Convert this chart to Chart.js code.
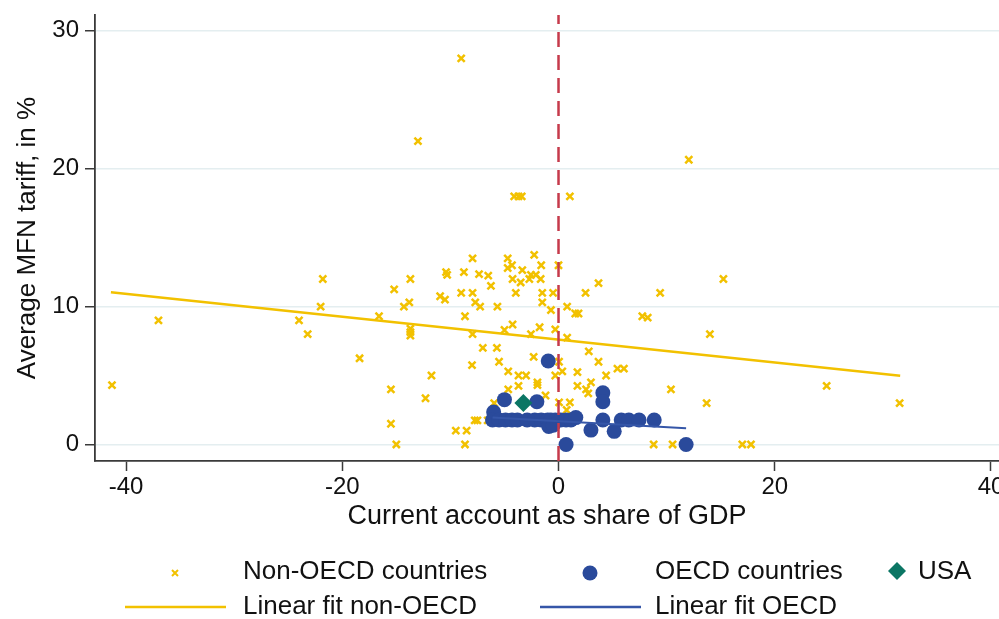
<!DOCTYPE html>
<html>
<head>
<meta charset="utf-8">
<script src="https://cdn.jsdelivr.net/npm/chart.js@4.4.1/dist/chart.umd.min.js"></script>
<style>
  html, body { margin: 0; padding: 0; background: #fff; }
</style>
</head>
<body>
<canvas id="chart" width="999" height="619"></canvas>
<script>
// Axis limits and ticks
const xMin = -42.87, xMax = 40.74;
const yMin = -1.2, yMax = 31.15;
const xTicks = [-40, -20, 0, 20, 40];
const yTicks = [0, 10, 20, 30];

// Non-OECD countries: [current account % GDP, average MFN tariff %]
const nonOecdPoints = [
  [-41.3, 4.3], [-37.0, 9.0], [-24.0, 9.0], [-23.2, 8.0], [-22.0, 10.0], [-21.8, 12.0],
  [-16.6, 9.3], [-18.4, 6.25], [-15.2, 11.25], [-15.5, 4.0], [-15.5, 1.5], [-15.0, 0],
  [-14.3, 10.0], [-13.8, 10.3], [-13.7, 12.0], [-13.7, 8.4], [-13.7, 8.15], [-13.7, 7.9],
  [-13.0, 22.0], [-12.3, 3.35], [-11.75, 5.0], [-10.95, 10.75], [-10.5, 10.5], [-10.4, 12.5],
  [-10.3, 12.3], [-9.5, 1.0], [-9.0, 28.0], [-9.0, 11.0], [-8.75, 12.5], [-8.65, 9.3],
  [-8.65, 0], [-8.5, 1.0], [-7.95, 13.5], [-7.95, 11.0], [-7.95, 8.0], [-8.0, 5.75],
  [-7.7, 10.3], [-7.75, 1.75], [-7.5, 1.75], [-7.35, 12.35], [-7.25, 10.0], [-7.0, 7.0],
  [-6.55, 1.75], [-6.5, 12.25], [-6.25, 11.5], [-5.95, 3.0], [-5.7, 7.0], [-5.65, 10.0],
  [-5.5, 6.0], [-5.0, 8.3], [-4.7, 13.5], [-4.7, 12.8], [-4.3, 13.0], [-4.65, 5.3],
  [-4.65, 4.0], [-4.25, 12.0], [-4.25, 8.7], [-4.1, 18.0], [-3.95, 11.0], [-3.7, 18.0],
  [-3.7, 5.0], [-3.7, 4.25], [-3.5, 11.75], [-3.4, 18.0], [-3.35, 12.65], [-3.0, 5.0],
  [-2.55, 8.0], [-2.55, 12.3], [-2.1, 12.3], [-2.7, 12.0], [-1.65, 12.0], [-2.25, 13.75],
  [-2.3, 6.35], [-1.95, 4.5], [-1.95, 4.3], [-1.6, 13.0], [-1.75, 8.5], [-1.5, 11.0],
  [-1.5, 10.3], [-1.2, 3.55], [-0.7, 9.75], [-0.5, 11.0], [-0.3, 8.35], [-0.3, 5.0],
  [0, 13.0], [0.05, 6.0], [0.05, 3.05], [0.35, 5.3], [0.75, 2.5], [0.8, 10.0],
  [0.8, 7.75], [1.05, 18.0], [1.05, 3.05], [1.55, 9.5], [1.85, 9.5], [1.75, 5.25],
  [1.75, 4.25], [2.5, 11.0], [2.55, 4.0], [2.75, 3.7], [2.8, 6.75], [3.0, 4.5],
  [3.7, 11.7], [3.7, 6.0], [4.4, 5.0], [5.45, 5.5], [6.05, 5.5], [7.75, 9.3],
  [8.25, 9.2], [8.8, 0], [9.4, 11.0], [10.4, 4.0], [10.55, 0], [12.05, 20.65],
  [13.7, 3.0], [14.0, 8.0], [15.25, 12.0], [17.0, 0], [17.8, 0], [24.8, 4.25], [31.55, 3.0]
];

// OECD countries
const oecdPoints = [
  [-0.95, 6.05], [-5.0, 3.25], [-2.0, 3.1], [4.1, 3.75], [4.1, 3.1], [-6.0, 2.35],
  [-6.1, 1.77], [-5.5, 1.77], [-4.9, 1.77], [-4.3, 1.77], [-3.8, 1.77], [-2.9, 1.77],
  [-2.2, 1.77], [-1.6, 1.77], [-1.0, 1.77], [-0.7, 1.77], [-0.3, 1.77], [0.2, 1.77],
  [0.7, 1.77], [1.15, 1.77], [1.6, 1.95], [4.1, 1.77], [5.8, 1.77], [6.5, 1.77],
  [7.45, 1.77], [8.85, 1.77], [-0.9, 1.3], [-0.5, 1.4], [3.0, 1.04], [5.15, 0.95],
  [0.7, 0.0], [11.8, 0.0]
];

const usaPoint = [[-3.25, 3.0]];

// Linear fits, end points
const fitNonOecd = [[-41.4, 11.04], [31.6, 4.98]];
const fitOecd = [[-6.1, 1.95], [11.8, 1.18]];

// vertical reference at zero current account
const refLineX = 0;

const legendLabels = ['Non-OECD countries', 'OECD countries', 'USA', 'Linear fit non-OECD', 'Linear fit OECD'];

const YELLOW = '#f2c100';
const BLUE = '#2a4a9b';
const BLUE_LINE = '#3556a8';
const TEAL = '#0b7664';
const RED = '#c63a4b';
const AXIS = '#3a3a3a';
const GRID = '#e4eef0';
const FONT = '"Liberation Sans", Arial, sans-serif';

const toXY = arr => arr.map(p => ({x: p[0], y: p[1]}));

// x tick labels drawn by hand so the last one may run off the canvas like in the original
const xLabelPlugin = {
  id: 'xLabels',
  afterDraw(chart) {
    const ctx = chart.ctx;
    const sx = chart.scales.x;
    ctx.save();
    ctx.font = '24px ' + FONT;
    ctx.fillStyle = '#111';
    ctx.textAlign = 'center';
    ctx.textBaseline = 'middle';
    xTicks.forEach(v => {
      ctx.fillText(String(v), sx.getPixelForValue(v), sx.top + 26);
    });
    ctx.restore();
  }
};

// Legend below the plot, drawn by hand like the Stata one
const legendPlugin = {
  id: 'stataLegend',
  afterDraw(chart) {
    const ctx = chart.ctx;
    ctx.save();
    ctx.font = '26px ' + FONT;
    ctx.fillStyle = '#111';
    ctx.textBaseline = 'middle';
    ctx.textAlign = 'left';

    // small x marker
    ctx.strokeStyle = YELLOW;
    ctx.lineWidth = 2;
    ctx.beginPath();
    ctx.moveTo(172, 570); ctx.lineTo(178, 576);
    ctx.moveTo(178, 570); ctx.lineTo(172, 576);
    ctx.stroke();
    ctx.fillText(legendLabels[0], 243, 572);

    // circle marker
    ctx.fillStyle = BLUE;
    ctx.beginPath();
    ctx.arc(590, 573, 7.5, 0, Math.PI * 2);
    ctx.fill();
    ctx.fillStyle = '#111';
    ctx.fillText(legendLabels[1], 655, 572);

    // diamond marker
    ctx.fillStyle = TEAL;
    ctx.beginPath();
    ctx.moveTo(897, 562); ctx.lineTo(906, 571); ctx.lineTo(897, 580); ctx.lineTo(888, 571);
    ctx.closePath();
    ctx.fill();
    ctx.fillStyle = '#111';
    ctx.fillText(legendLabels[2], 918, 572);

    // line keys
    ctx.lineWidth = 2.5;
    ctx.strokeStyle = YELLOW;
    ctx.beginPath(); ctx.moveTo(125, 607); ctx.lineTo(226, 607); ctx.stroke();
    ctx.fillText(legendLabels[3], 243, 607);
    ctx.strokeStyle = BLUE_LINE;
    ctx.beginPath(); ctx.moveTo(540, 607); ctx.lineTo(641, 607); ctx.stroke();
    ctx.fillText(legendLabels[4], 655, 607);
    ctx.restore();
  }
};

const ctx = document.getElementById('chart').getContext('2d');
new Chart(ctx, {
  type: 'scatter',
  data: {
    datasets: [
      {
        label: 'zero',
        data: [{x: refLineX, y: yMin}, {x: refLineX, y: yMax}],
        showLine: true, pointRadius: 0, borderColor: RED, borderWidth: 2.5,
        borderDash: [15, 8], order: 0
      },
      {
        label: legendLabels[3], data: toXY(fitNonOecd), showLine: true, pointRadius: 0,
        borderColor: YELLOW, borderWidth: 2.5, order: 1
      },
      {
        label: legendLabels[4], data: toXY(fitOecd), showLine: true, pointRadius: 0,
        borderColor: BLUE_LINE, borderWidth: 2, order: 2
      },
      {
        label: legendLabels[2], data: toXY(usaPoint), pointStyle: 'rectRot', pointRadius: 9,
        backgroundColor: TEAL, borderColor: TEAL, borderWidth: 0, order: 3
      },
      {
        label: legendLabels[1], data: toXY(oecdPoints), pointStyle: 'circle', pointRadius: 7.5,
        backgroundColor: BLUE, borderColor: BLUE, borderWidth: 0, order: 4
      },
      {
        label: legendLabels[0], data: toXY(nonOecdPoints), pointStyle: 'crossRot', pointRadius: 5,
        borderColor: YELLOW, backgroundColor: YELLOW, borderWidth: 2.5, order: 5
      }
    ]
  },
  options: {
    responsive: false,
    animation: false,
    layout: {autoPadding: false, padding: {top: 15, right: 0, bottom: 79, left: 0}},
    plugins: {legend: {display: false}, tooltip: {enabled: false}},
    scales: {
      x: {
        type: 'linear', min: xMin, max: xMax,
        afterBuildTicks(scale) { scale.ticks = xTicks.map(v => ({value: v})); },
        afterFit(scale) { scale.height = 79; scale.paddingLeft = 0; scale.paddingRight = 0; },
        border: {display: true, color: AXIS, width: 1.8},
        grid: {drawOnChartArea: false, drawTicks: true, tickLength: 10, tickColor: AXIS, tickWidth: 1.5},
        ticks: {display: false},
        title: {display: true, text: 'Current account as share of GDP', color: '#111', padding: {top: 0, bottom: 7},
          font: {family: FONT, size: 27}}
      },
      y: {
        type: 'linear', min: yMin, max: yMax,
        afterBuildTicks(scale) { scale.ticks = yTicks.map(v => ({value: v})); },
        afterFit(scale) { scale.width = 95; scale.paddingTop = 0; scale.paddingBottom = 0; },
        border: {display: true, color: AXIS, width: 1.8},
        grid: {color: GRID, lineWidth: 1.5, drawTicks: true, tickLength: 10, tickColor: AXIS, tickWidth: 1.5},
        ticks: {color: '#111', padding: 6, font: {family: FONT, size: 24}},
        title: {display: true, text: 'Average MFN tariff, in %', color: '#111', padding: {top: 12, bottom: 0},
          font: {family: FONT, size: 26}}
      }
    }
  },
  plugins: [xLabelPlugin, legendPlugin]
});
</script>
</body>
</html>
